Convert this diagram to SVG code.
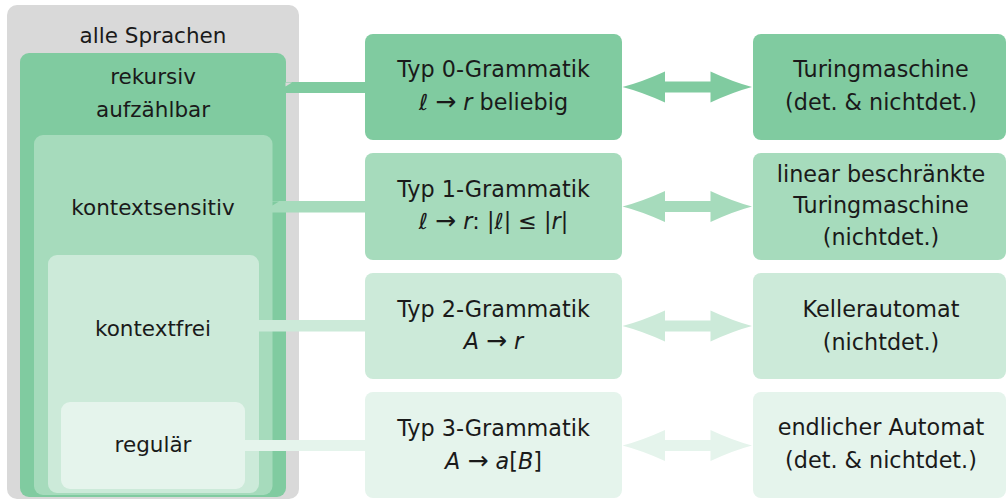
<svg xmlns="http://www.w3.org/2000/svg" width="1007" height="502" viewBox="0 0 1007 502">
<style>
text{font-family:"DejaVu Sans","Liberation Sans",sans-serif;font-size:21.5px;fill:#1a1a1a;text-anchor:middle}
.r text{font-size:22.3px}
.m{font-style:italic}
.ar{font-size:25px}
.c0{fill:#80CBA0}.c1{fill:#A6DBBC}.c2{fill:#CCEAD9}.c3{fill:#E5F4EC}.g{fill:#D9D9D9}
</style>
<rect width="1007" height="502" fill="#ffffff"/>
<g id="alle-sprachen"><rect class="g" x="7" y="5" width="292" height="494" rx="10"/><text x="153" y="43">alle Sprachen</text></g>
<g id="rekursiv-aufzaehlbar"><rect class="c0" x="20" y="53" width="266" height="444" rx="9"/><text x="153" y="84">rekursiv</text><text x="153" y="117">aufzählbar</text></g>
<g id="kontextsensitiv"><rect class="c1" x="34" y="135" width="238.5" height="360" rx="9"/><text x="153" y="215">kontextsensitiv</text></g>
<g id="kontextfrei"><rect class="c2" x="48" y="255" width="211" height="238" rx="9"/><text x="153" y="336">kontextfrei</text></g>
<g id="regulaer"><rect class="c3" x="61" y="402" width="184" height="87" rx="9"/><text x="153" y="452">regulär</text></g>

<g id="connectors">
<rect class="c0" x="285" y="82" width="81" height="11"/>
<polygon class="g" points="285.5,82.5 292,82.5 285.5,86.5"/>
<rect class="c1" x="272" y="201" width="94" height="11.5"/>
<polygon class="c0" points="272.5,201.5 279,201.5 272.5,205.5"/>
<rect class="c2" x="259" y="320" width="107" height="11.5"/>
<rect class="c3" x="245" y="440" width="121" height="11"/>
<path class="c0" d="M622.5,87 Q642,82 665,71.5 L665,81.5 L710.5,81.5 L710.5,71.5 Q733,82 752,87 Q733,92 710.5,102.5 L710.5,92.5 L665,92.5 L665,102.5 Q642,92 622.5,87 Z"/>
<path class="c1" d="M622.5,206.5 Q642,201.5 665,191 L665,201 L710.5,201 L710.5,191 Q733,201.5 752,206.5 Q733,211.5 710.5,222 L710.5,212 L665,212 L665,222 Q642,211.5 622.5,206.5 Z"/>
<path class="c2" d="M622.5,326 Q642,321 665,310.5 L665,320.5 L710.5,320.5 L710.5,310.5 Q733,321 752,326 Q733,331 710.5,341.5 L710.5,331.5 L665,331.5 L665,341.5 Q642,331 622.5,326 Z"/>
<path class="c3" d="M622.5,445.5 Q642,440.5 665,430 L665,440 L710.5,440 L710.5,430 Q733,440.5 752,445.5 Q733,450.5 710.5,461 L710.5,451 L665,451 L665,461 Q642,450.5 622.5,445.5 Z"/>
</g>

<g class="r">
<g id="typ0"><rect class="c0" x="365" y="34" width="257" height="106" rx="8"/><text x="493.5" y="77">Typ 0-Grammatik</text><text x="493.5" y="110"><tspan class="m">ℓ</tspan> <tspan class="ar">→</tspan> <tspan class="m">r</tspan> beliebig</text></g>
<g id="typ1"><rect class="c1" x="365" y="153" width="257" height="107" rx="8"/><text x="493.5" y="197">Typ 1-Grammatik</text><text x="493.5" y="229"><tspan class="m">ℓ</tspan> <tspan class="ar">→</tspan> <tspan class="m">r</tspan>: |<tspan class="m">ℓ</tspan>| ≤ |<tspan class="m">r</tspan>|</text></g>
<g id="typ2"><rect class="c2" x="365" y="273" width="257" height="106" rx="8"/><text x="493.5" y="317">Typ 2-Grammatik</text><text x="493.5" y="349"><tspan class="m">A</tspan> <tspan class="ar">→</tspan> <tspan class="m">r</tspan></text></g>
<g id="typ3"><rect class="c3" x="365" y="392" width="257" height="106" rx="8"/><text x="493.5" y="436">Typ 3-Grammatik</text><text x="493.5" y="469"><tspan class="m">A</tspan> <tspan class="ar">→</tspan> <tspan class="m">a</tspan>[<tspan class="m">B</tspan>]</text></g>

<g id="turingmaschine"><rect class="c0" x="753" y="34" width="253" height="106" rx="8"/><text x="881" y="77">Turingmaschine</text><text x="881" y="110">(det. &amp; nichtdet.)</text></g>
<g id="lba"><rect class="c1" x="753" y="153" width="253" height="107" rx="8"/><text x="881" y="182">linear beschränkte</text><text x="881" y="213">Turingmaschine</text><text x="881" y="245">(nichtdet.)</text></g>
<g id="kellerautomat"><rect class="c2" x="753" y="273" width="253" height="106" rx="8"/><text x="881" y="317">Kellerautomat</text><text x="881" y="350">(nichtdet.)</text></g>
<g id="endlicher-automat"><rect class="c3" x="753" y="392" width="253" height="106" rx="8"/><text x="881" y="435">endlicher Automat</text><text x="881" y="468">(det. &amp; nichtdet.)</text></g>
</g>
</svg>
